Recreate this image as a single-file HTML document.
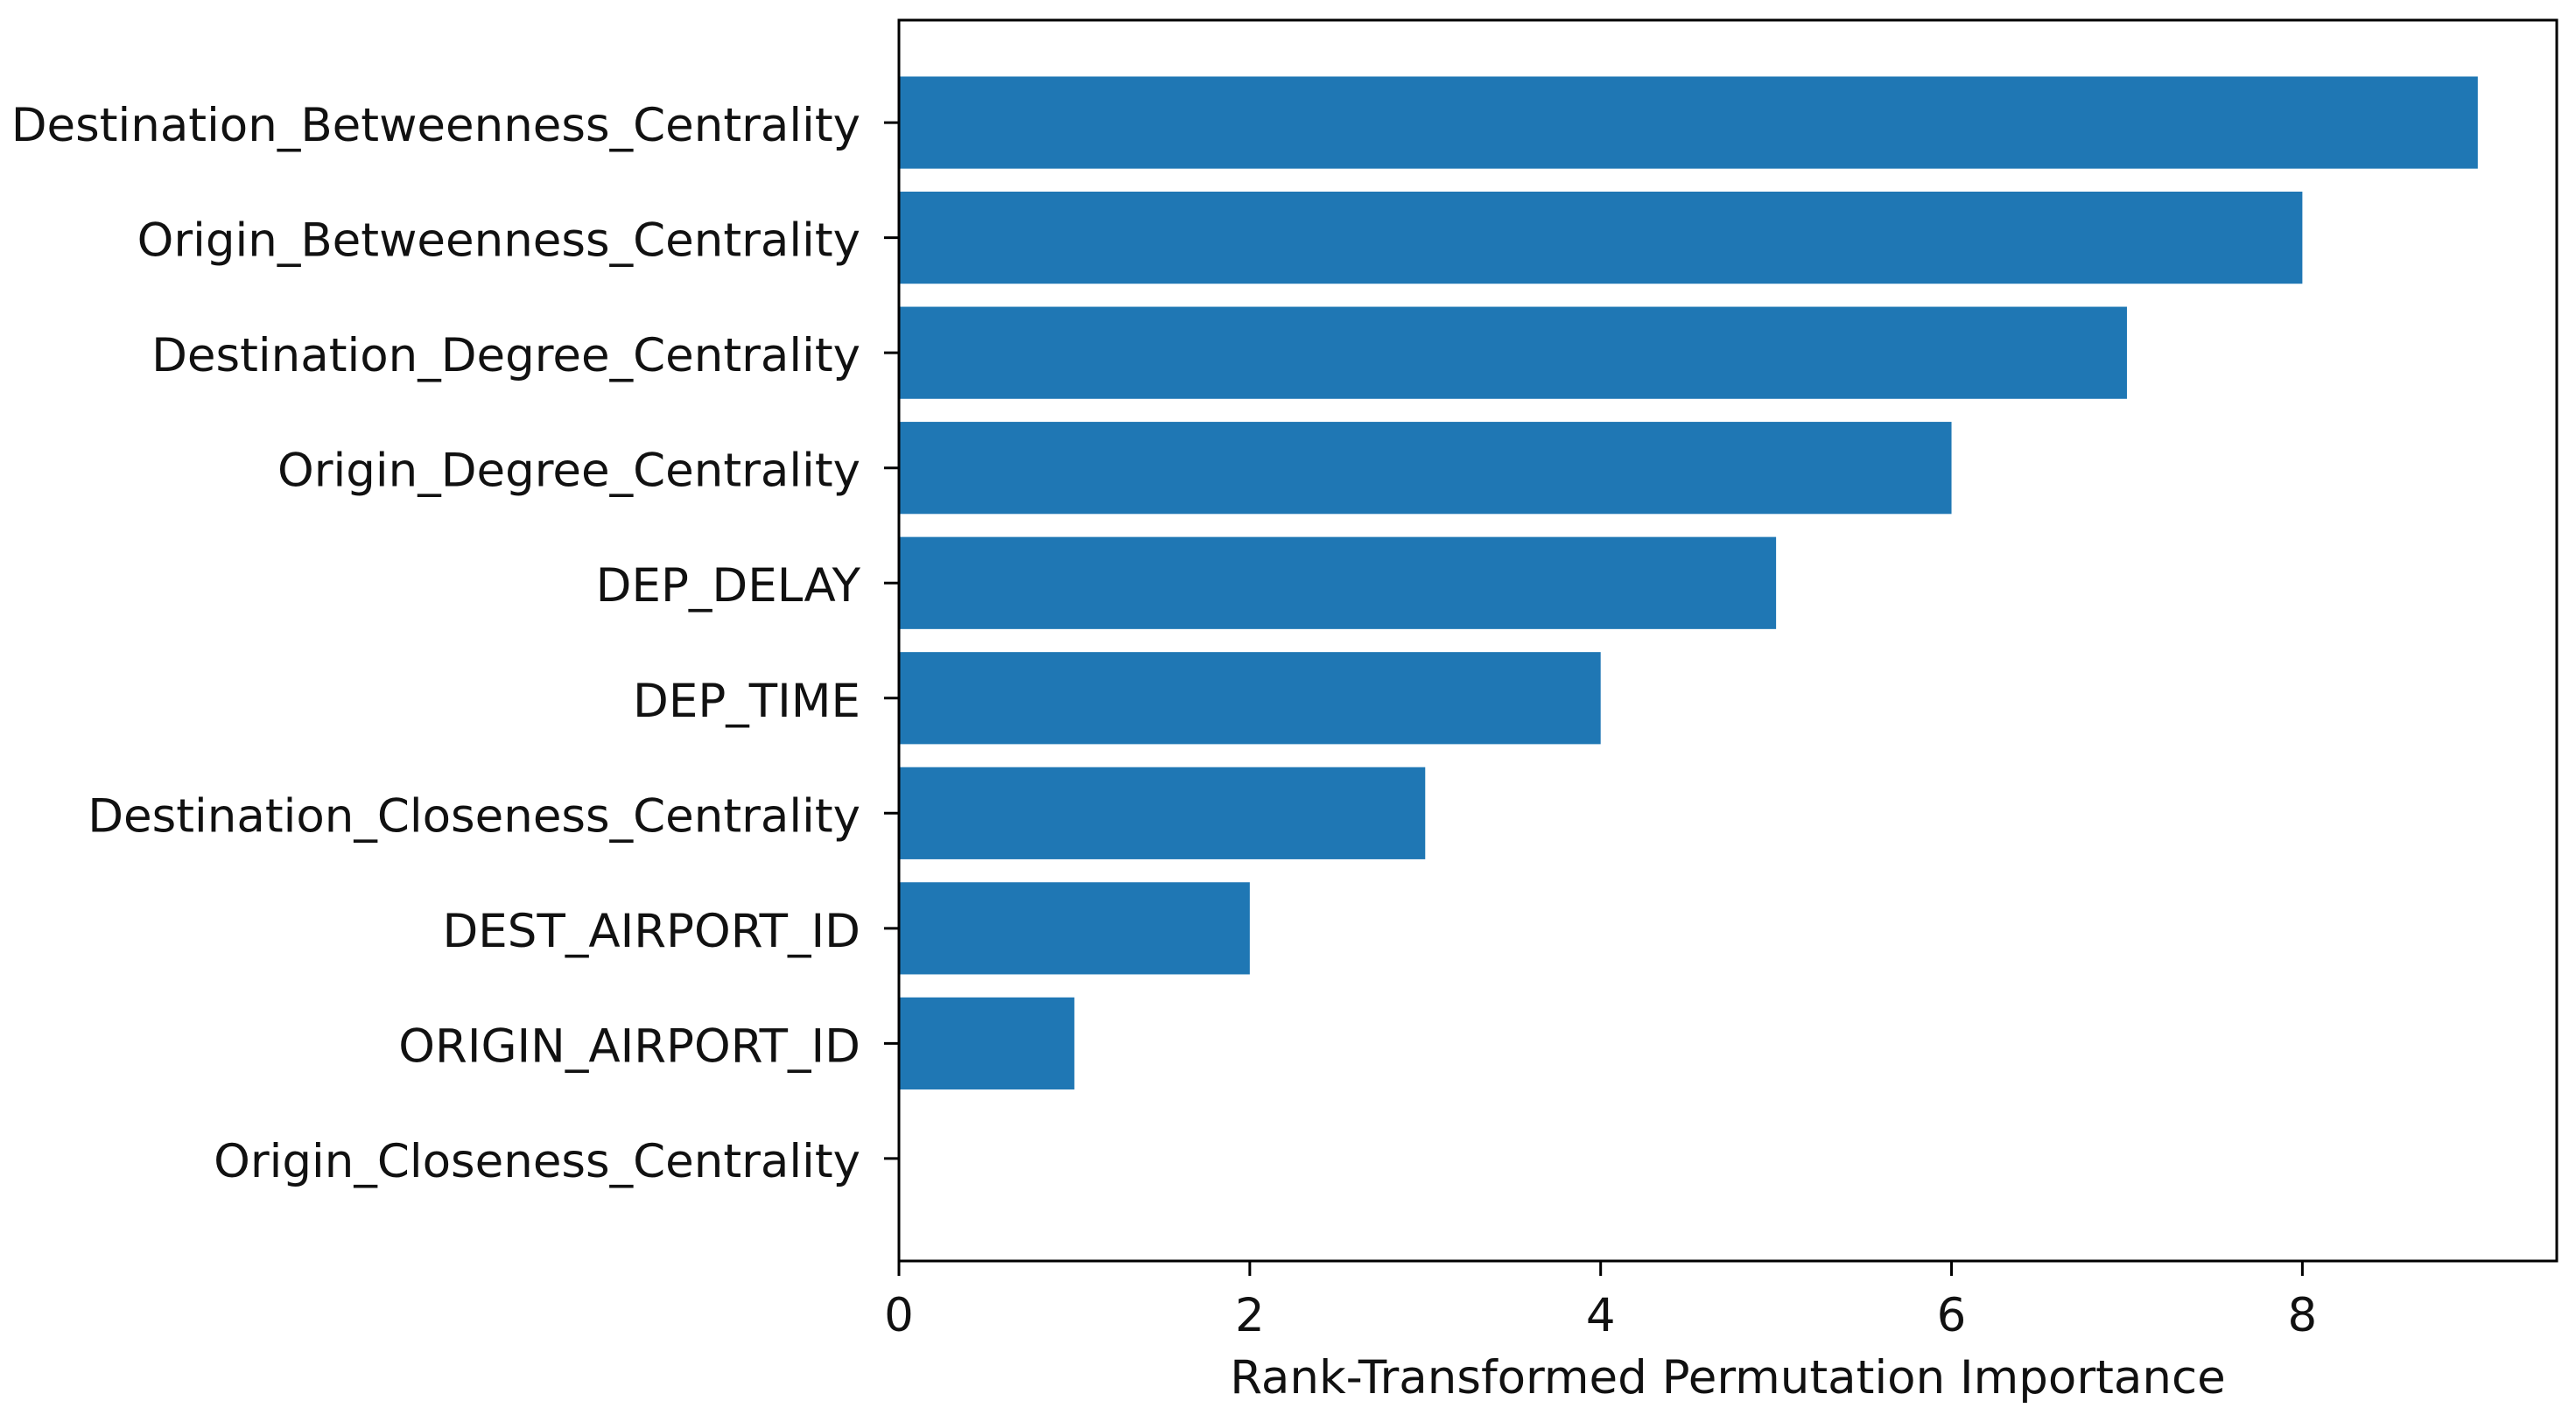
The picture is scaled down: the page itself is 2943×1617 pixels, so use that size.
<!DOCTYPE html>
<html><head><meta charset="utf-8"><style>
html,body{margin:0;padding:0;background:#fff;}
svg{display:block;font-family:"DejaVu Sans","Liberation Sans",sans-serif;}
</style></head><body>
<svg id="chart" width="2943" height="1617" viewBox="0 0 2943 1617" xmlns="http://www.w3.org/2000/svg">
<rect width="2943" height="1617" fill="#fff"/>
<g id="bars"></g>
<g id="yticks"></g>
<g id="xticks"></g>
<rect x="1027" y="23" width="1894" height="1418" fill="none" stroke="#000" stroke-width="3"/>
<text x="1974" y="1592" font-size="53" text-anchor="middle" fill="#111">Rank-Transformed Permutation Importance</text>
</svg>
<script>
const features = ["Origin_Closeness_Centrality","ORIGIN_AIRPORT_ID","DEST_AIRPORT_ID","Destination_Closeness_Centrality","DEP_TIME","DEP_DELAY","Origin_Degree_Centrality","Destination_Degree_Centrality","Origin_Betweenness_Centrality","Destination_Betweenness_Centrality"];
const importance = [0,1,2,3,4,5,6,7,8,9];
const xTicks = [0,2,4,6,8];

const L=1027,R=2921,T=23,B=1441;
const barH=0.8;
const xMax=Math.max(...importance)*1.05||1;
const yMin=-barH/2-0.05*(features.length-1+barH), yMax=features.length-1+barH/2+0.05*(features.length-1+barH);
const xs=v=>L+(v/xMax)*(R-L);
const ys=v=>T+(yMax-v)/(yMax-yMin)*(B-T);
const NS="http://www.w3.org/2000/svg";
const bars=document.getElementById('bars'),yt=document.getElementById('yticks'),xt=document.getElementById('xticks');
features.forEach((f,i)=>{
  const r=document.createElementNS(NS,'rect');
  
  
  const y0=ys(i+barH/2),y1=ys(i-barH/2);
  r.setAttribute('x',xs(0));r.setAttribute('y',y0);
  r.setAttribute('width',Math.max(0,xs(importance[i])-xs(0)));r.setAttribute('height',y1-y0);
  r.setAttribute('fill','#1f77b4');
  bars.appendChild(r);
  const tk=document.createElementNS(NS,'line');
  
  
  tk.setAttribute('x1',L-17);tk.setAttribute('x2',L);tk.setAttribute('y1',ys(i));tk.setAttribute('y2',ys(i));
  tk.setAttribute('stroke','#000');tk.setAttribute('stroke-width','3');
  yt.appendChild(tk);
  const t=document.createElementNS(NS,'text');
  
  
  t.setAttribute('x',L-44);t.setAttribute('y',ys(i)+21);
  t.setAttribute('font-size','53');t.setAttribute('text-anchor','end');t.setAttribute('fill','#111');
  t.textContent=f;
  yt.appendChild(t);
});
xTicks.forEach(v=>{
  const tk=document.createElementNS(NS,'line');
  
  
  tk.setAttribute('x1',xs(v));tk.setAttribute('x2',xs(v));tk.setAttribute('y1',B);tk.setAttribute('y2',B+17);
  tk.setAttribute('stroke','#000');tk.setAttribute('stroke-width','3');
  xt.appendChild(tk);
  const t=document.createElementNS(NS,'text');
  
  
  t.setAttribute('x',xs(v));t.setAttribute('y',B+80);
  t.setAttribute('font-size','53');t.setAttribute('text-anchor','middle');t.setAttribute('fill','#111');
  t.textContent=v;
  xt.appendChild(t);
});
</script>
</body></html>
